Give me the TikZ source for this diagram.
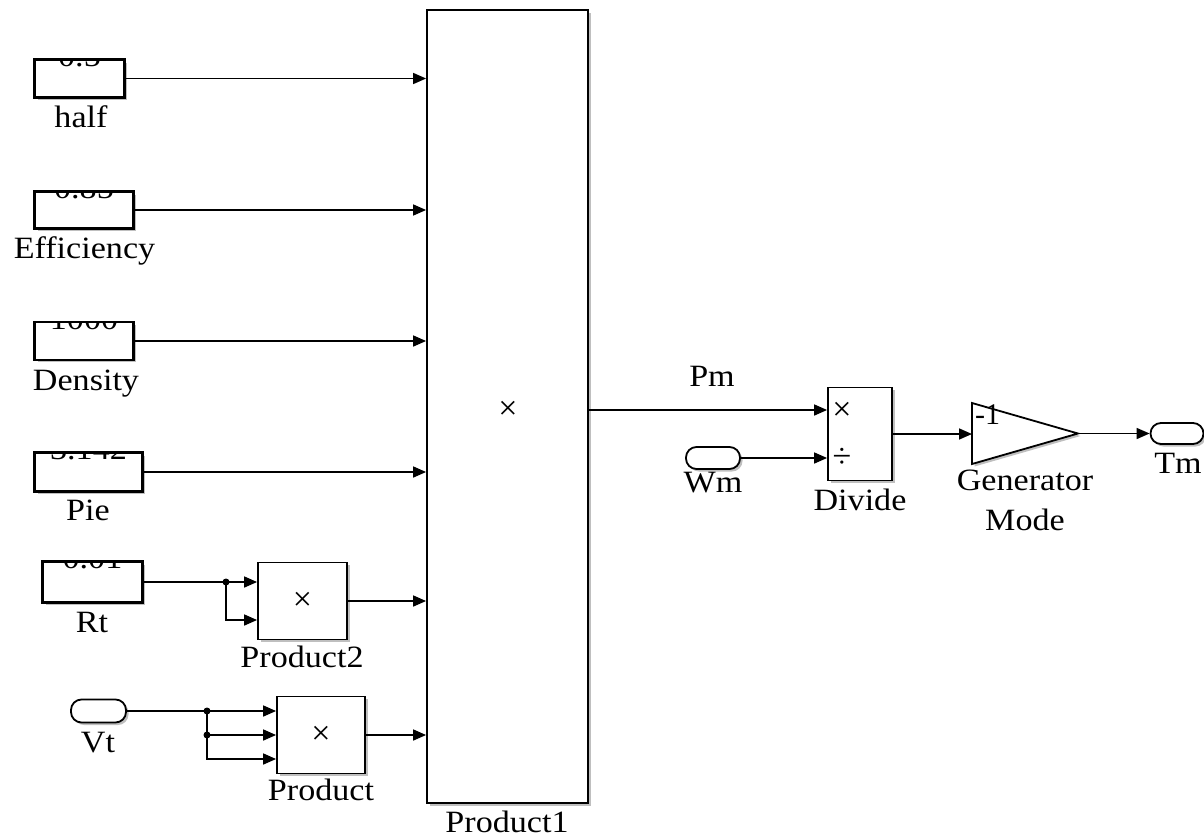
\documentclass[tikz,border=0pt]{standalone}
\usepackage{fontspec}
\setmainfont{Liberation Serif}
\usetikzlibrary{arrows.meta,shadows}
\begin{document}
\begin{tikzpicture}[x=1pt,y=-1pt,
  blk/.style={draw, line width=1.8pt, fill=white, inner sep=0pt,
    drop shadow={shadow xshift=2.5pt,shadow yshift=-2.5pt,opacity=0.5}},
  port/.style={blk, rounded corners=10.5pt},
  wire/.style={line width=1.6pt, -{Triangle[length=13pt,width=11pt]}},
  plain/.style={line width=1.6pt},
  lbl/.style={font=\fontsize{31}{33}\selectfont, anchor=base, inner sep=0pt, xscale=1.1},
  sym/.style={font=\fontsize{34}{36}\selectfont, inner sep=0pt},
  jdot/.style={circle, fill, inner sep=0pt, minimum size=7pt}]
\useasboundingbox (0,0) rectangle (1204,838);

% big product
\node[blk, minimum width=161pt, minimum height=793pt] (P1) at (507.5,406.5) {};
\node[sym] (x1) at (508,410) {×};
\node[lbl] (P1l) at (507,832) {Product1};

% constants
\newcommand{\constblk}[6]{%
  \node[blk, minimum width=#3pt, minimum height=#4pt] (#1) at (#2) {};
  \begin{scope}
    \clip (#1.north west) rectangle (#1.south east);
    \node[lbl] (#1v) at ([yshift=-7.5pt]#1.north) {#5};
  \end{scope}
  \draw[line width=1.8pt] (#1.north west) rectangle (#1.south east);
}
\constblk{half}{79.5,78.5}{89}{37}{0.5}{}
\node[lbl] (halfl) at (81,127) {half};
\constblk{eff}{84,210}{98}{36}{0.85}{}
\node[lbl] (effl) at (84.5,258) {Efficiency};
\constblk{dens}{84,341}{98}{37}{1000}{}
\node[lbl] (densl) at (86,390) {Density};
\constblk{pie}{88.5,472}{107}{38}{3.142}{}
\node[lbl] (piel) at (88,520) {Pie};
\constblk{rt}{92.5,582}{99}{40}{0.01}{}
\node[lbl] (rtl) at (92,632) {Rt};

\draw[wire] (half.east) -- (half.east -| P1.west);
\draw[wire] (eff.east) -- (eff.east -| P1.west);
\draw[wire] (dens.east) -- (dens.east -| P1.west);
\draw[wire] (pie.east) -- (pie.east -| P1.west);

% Product2
\node[blk, minimum width=89pt, minimum height=77pt] (p2) at (302.5,601) {};
\node[sym] (x2) at (p2.center) {×};
\node[lbl] (p2l) at (302,667) {Product2};
\coordinate (j1) at (226,582);
\draw[plain] (rt.east) -- (j1);
\draw[wire] (j1) -- ([yshift=19pt]p2.west);
\draw[wire] (j1) |- ([yshift=-19pt]p2.west);
\node[jdot] (d1) at (j1) {};
\draw[wire] (p2.east) -- (p2.east -| P1.west);

% Vt and Product
\node[port, minimum width=55pt, minimum height=23pt] (vt) at (98.5,711) {};
\node[lbl] (vtl) at (98,752) {Vt};
\node[blk, minimum width=88pt, minimum height=77pt] (pr) at (321,735) {};
\node[sym] (x3) at (pr.center) {×};
\node[lbl] (prl) at (321,800) {Product};
\coordinate (j2) at (207,711);
\coordinate (j3) at (207,735);
\draw[plain] (vt.east) -- (j2);
\draw[wire] (j2) -- ([yshift=24pt]pr.west);
\draw[wire] (j3) -- (pr.west);
\draw[plain] (j2) -- (j3);
\draw[wire] (j3) |- ([yshift=-24pt]pr.west);
\node[jdot] (d2) at (j2) {};
\node[jdot] (d3) at (j3) {};
\draw[wire] (pr.east) -- (pr.east -| P1.west);

% Divide
\node[blk, minimum width=64pt, minimum height=93pt] (dv) at (860,434) {};
\node[sym] (dx) at (842,411) {×};
\node[sym] (dd) at (842,458) {÷};
\node[lbl] (dvl) at (860,510) {Divide};
\coordinate (p1out) at (588,410);
\draw[wire] (p1out) -- (p1out -| dv.west);
\node[lbl] (pml) at (712,386) {Pm};
\node[port, minimum width=54pt, minimum height=22pt] (wm) at (713,458) {};
\node[lbl] (wml) at (713,492) {Wm};
\draw[wire] (wm.east) -- (wm.east -| dv.west);

% Gain
\path[blk] (972,403) -- (1078,433.5) -- (972,464) -- cycle;
\coordinate (gin) at (972,434);
\coordinate (gout) at (1078,433.5);
\node[font=\fontsize{30}{32}\selectfont, anchor=base west, inner sep=0pt] (gv) at (975,424) {-1};
\node[lbl] (gl1) at (1025,490) {Generator};
\node[lbl] (gl2) at (1025,530) {Mode};
\draw[wire] (dv.east) -- (gin);

% Tm
\node[port, minimum width=53pt, minimum height=21pt] (tm) at (1177,433.5) {};
\node[lbl] (tml) at (1178,473) {Tm};
\draw[wire] (gout) -- (tm.west);
\end{tikzpicture}
\end{document}
